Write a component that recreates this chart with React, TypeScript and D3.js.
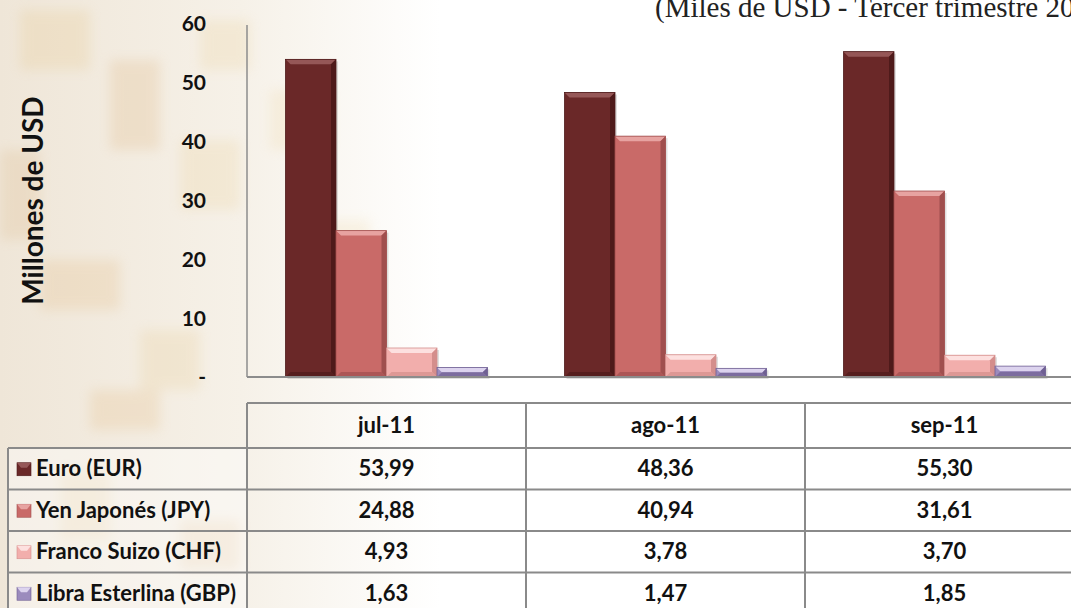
import React from 'react';
import * as d3 from 'd3';

const categories = ['jul-11', 'ago-11', 'sep-11'];
const seriesNames = ['Euro (EUR)', 'Yen Japonés (JPY)', 'Franco Suizo (CHF)', 'Libra Esterlina (GBP)'];
const euro = [53.99, 48.36, 55.3];
const yen = [24.88, 40.94, 31.61];
const franco = [4.93, 3.78, 3.7];
const libra = [1.63, 1.47, 1.85];
const yTicks = [0, 10, 20, 30, 40, 50, 60];
const titleText = '(Miles de USD - Tercer trimestre 2011)';

// base, light bevel, dark bevel
const palette = [
  { base: '#6a2828', light: '#955757', dark: '#4e1a1a' },
  { base: '#c96a68', light: '#e7a3a1', dark: '#a04f4e' },
  { base: '#f2aeac', light: '#fde0df', dark: '#d48e8c' },
  { base: '#9b8bbd', light: '#dcd3ee', dark: '#6f6093' },
];

const W = 1071, H = 608;
const axisX = 247, baseY = 377;
const font = 'Lato, "Open Sans", sans-serif';

const fmt = (v: number) => v.toFixed(2).replace('.', ',');

function Bar({ x, y, w, h, c }: { x: number; y: number; w: number; h: number; c: typeof palette[0] }) {
  const b = Math.min(5, h / 2);
  return (
    <g>
      <rect x={x + 2} y={y + 2} width={w} height={h} fill="#000" opacity={0.12} />
      <rect x={x} y={y} width={w} height={h} fill={c.base} />
      <polygon points={`${x},${y} ${x + w},${y} ${x + w - b},${y + b} ${x + b},${y + b}`} fill={c.light} />
      <polygon points={`${x + w},${y} ${x + w - b},${y + b} ${x + w - b},${y + h - b} ${x + w},${y + h}`} fill={c.dark} />
      <polygon points={`${x},${y + h} ${x + b},${y + h - b} ${x + w - b},${y + h - b} ${x + w},${y + h}`} fill={c.dark} opacity={0.7} />
      <rect x={x} y={y} width={w} height={h} fill="none" stroke={c.dark} strokeWidth={0.8} />
    </g>
  );
}

// faint mosaic in the page background (decoration only)
const bgBlocks = [
  [20, 10, 70, 60, '#e3c07a'], [110, 60, 50, 90, '#d9a86a'], [180, 140, 60, 70, '#e8c98a'],
  [40, 260, 80, 50, '#e0b070'], [140, 330, 60, 60, '#e5c585'], [60, 470, 50, 70, '#e3c07a'],
  [180, 520, 60, 50, '#d9a86a'], [270, 90, 60, 60, '#ecd29a'], [300, 220, 70, 40, '#ecd29a'],
  [0, 150, 40, 90, '#d8b07a'], [200, 20, 50, 50, '#e8c98a'], [90, 390, 70, 40, '#e0b070'],
] as const;

export default function App() {
  const series = [euro, yen, franco, libra];
  const y = d3.scaleLinear().domain([0, 60]).range([baseY, 24]);
  const cols = d3.scaleBand().domain(categories).range([axisX, axisX + 3 * 279]);
  const x = d3.scaleBand().domain(categories).range([axisX, axisX + 3 * 279]).paddingInner(0.276).paddingOuter(0.138);
  const inner = d3.scaleBand().domain(seriesNames).range([0, x.bandwidth()]);

  const headTop = 403, headBottom = 448, rowH = 41.5;
  const rowTop = (i: number) => headBottom + i * rowH;
  const gridColor = '#8a8a8a';

  return (
    <svg width={W} height={H} style={{ position: 'absolute', left: 0, top: 0, background: '#fff' }}>
      <defs>
        <linearGradient id="bg" x1="0" x2="1" y1="0" y2="0">
          <stop offset="0" stopColor="#efe6d8" />
          <stop offset="0.55" stopColor="#f6f1e8" />
          <stop offset="1" stopColor="#ffffff" />
        </linearGradient>
        <filter id="blur" x="-20%" y="-20%" width="140%" height="140%">
          <feGaussianBlur stdDeviation="6" />
        </filter>
      </defs>
      <rect x={0} y={0} width={440} height={H} fill="url(#bg)" />
      <g opacity={0.2} filter="url(#blur)">
        {bgBlocks.map((b, i) => (
          <rect key={i} x={b[0]} y={b[1]} width={b[2]} height={b[3]} fill={b[4]} />
        ))}
      </g>

      <text x={655} y={17} fontFamily='"Liberation Serif", "DejaVu Serif", serif' fontSize={29} fill="#222">{titleText}</text>

      <text transform={`translate(43,${(y(60) + baseY) / 2}) rotate(-90)`} textAnchor="middle" fontFamily={font} fontWeight="bold" fontSize={28} fill="#111">Millones de USD</text>

      {yTicks.map(t => (
        <text key={t} x={206} y={y(t)} dy="0.35em" textAnchor="end" fontFamily={font} fontWeight="bold" fontSize={21} fill="#111">
          {t === 0 ? '-' : t}
        </text>
      ))}

      {categories.map((c, ci) =>
        series.map((s, si) => {
          const bx = (x(c) as number) + (inner(seriesNames[si]) as number);
          const by = y(s[ci]);
          return <Bar key={c + si} x={bx} y={by} w={inner.bandwidth()} h={baseY - by} c={palette[si]} />;
        })
      )}

      <line x1={axisX} x2={axisX} y1={25} y2={baseY} stroke="#8c8c8c" strokeWidth={1.5} />
      <line x1={axisX} x2={W} y1={baseY} y2={baseY} stroke="#8c8c8c" strokeWidth={2} />

      {/* data table */}
      <rect x={9} y={headBottom + 1} width={axisX - 10} height={H - headBottom} fill="#fff" opacity={0.4} />
      <g fill="none" stroke={gridColor} strokeWidth={2}>
        <line x1={axisX} x2={W} y1={headTop} y2={headTop} />
        {seriesNames.map((_, i) => (
          <line key={i} x1={8} x2={W} y1={rowTop(i)} y2={rowTop(i)} />
        ))}
        <line x1={8} x2={8} y1={headBottom} y2={H} />
        {categories.map(c => (
          <line key={c} x1={cols(c) as number} x2={cols(c) as number} y1={headTop} y2={H} />
        ))}
      </g>

      {categories.map(c => (
        <text key={c} x={(cols(c) as number) + cols.bandwidth() / 2} y={(headTop + headBottom) / 2} dy="0.35em" textAnchor="middle" fontFamily={font} fontWeight="bold" fontSize={22} fill="#111">{c}</text>
      ))}

      {seriesNames.map((name, si) => {
        const cy = rowTop(si) + rowH / 2;
        const c = palette[si];
        return (
          <g key={name}>
            <rect x={17} y={cy - 6} width={14} height={13} fill={c.base} stroke={c.dark} strokeWidth={0.6} />
            <polygon points={`${17},${cy - 6} ${31},${cy - 6} ${27},${cy - 1} ${21},${cy - 1}`} fill={c.light} />
            <text x={36} y={cy} dy="0.35em" fontFamily={font} fontWeight="bold" fontSize={22} fill="#111">{name}</text>
            {categories.map((cat, ci) => (
              <text key={cat} x={(cols(cat) as number) + cols.bandwidth() / 2} y={cy} dy="0.35em" textAnchor="middle" fontFamily={font} fontWeight="bold" fontSize={22} fill="#111">
                {fmt(series[si][ci])}
              </text>
            ))}
          </g>
        );
      })}
    </svg>
  );
}
